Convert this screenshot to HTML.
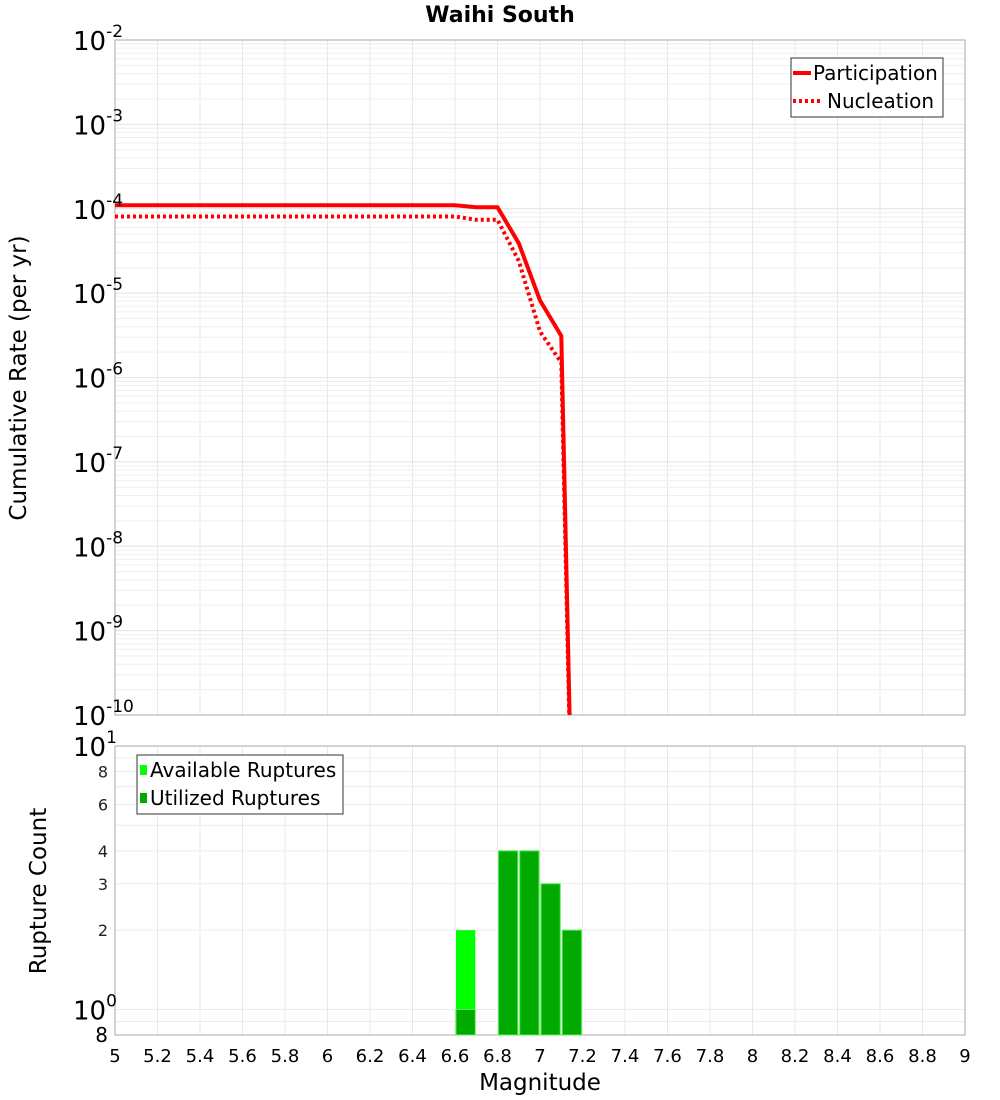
<!DOCTYPE html>
<html><head><meta charset="utf-8"><style>html,body{margin:0;padding:0;background:#fff;overflow:hidden;width:1000px;height:1100px}svg{display:block;font-family:"DejaVu Sans","Liberation Sans",sans-serif}</style></head>
<body>
<svg id="chart" width="1000" height="1100" viewBox="0 0 1000 1100"></svg>
<script>
const mags = [5,5.1,5.2,5.3,5.4,5.5,5.6,5.7,5.8,5.9,6,6.1,6.2,6.3,6.4,6.5,6.6,6.7,6.8,6.9,7.0,7.1,7.2];
const participation = [1.1e-4,1.1e-4,1.1e-4,1.1e-4,1.1e-4,1.1e-4,1.1e-4,1.1e-4,1.1e-4,1.1e-4,1.1e-4,1.1e-4,1.1e-4,1.1e-4,1.1e-4,1.1e-4,1.1e-4,1.04e-4,1.04e-4,3.9e-5,8.2e-6,3.1e-6,1e-17];
const nucleation = [8.1e-5,8.1e-5,8.1e-5,8.1e-5,8.1e-5,8.1e-5,8.1e-5,8.1e-5,8.1e-5,8.1e-5,8.1e-5,8.1e-5,8.1e-5,8.1e-5,8.1e-5,8.1e-5,8.1e-5,7.4e-5,7.4e-5,2.4e-5,3.5e-6,1.5e-6,1e-17];
const binMags = [6.6,6.8,6.9,7.0,7.1];
const available = [2,4,4,3,2];
const utilized = [1,4,4,3,2];
const xTicks = ["5","5.2","5.4","5.6","5.8","6","6.2","6.4","6.6","6.8","7","7.2","7.4","7.6","7.8","8","8.2","8.4","8.6","8.8","9"];

const NS="http://www.w3.org/2000/svg", svg=document.getElementById('chart');
function mk(t,a,p){const e=document.createElementNS(NS,t);for(const k in a)e.setAttribute(k,a[k]);(p||svg).appendChild(e);return e;}
const L=115,R=965,T1=40,B1=715,T2=746,B2=1035;
const x=m=>L+(m-5)*(R-L)/4;
const y1=v=>B1-(Math.log10(v)+10)*(B1-T1)/8;
const y2=v=>B2-(Math.log10(v)-Math.log10(0.8))*(B2-T2)/(1-Math.log10(0.8));

const grid=mk('g',{});
for(let i=0;i<xTicks.length;i++){const m=5+i*0.2;
 mk('line',{x1:x(m),x2:x(m),y1:T1,y2:B1,stroke:'#e8e8e8'},grid);
 mk('line',{x1:x(m),x2:x(m),y1:T2,y2:B2,stroke:'#e8e8e8'},grid);}
for(let d=-10;d<-2;d++)for(let k=1;k<10;k++){const yy=y1(k*Math.pow(10,d));mk('line',{x1:L,x2:R,y1:yy,y2:yy,stroke:k==1?'#e2e2e2':'#efefef'},grid);}
[0.9,1,2,3,4,5,6,7,8,9].forEach(v=>{const yy=y2(v);mk('line',{x1:L,x2:R,y1:yy,y2:yy,stroke:'#ececec'},grid);});

mk('rect',{x:L,y:T1,width:R-L,height:B1-T1,fill:'none',stroke:'#aaa'});
mk('rect',{x:L,y:T2,width:R-L,height:B2-T2,fill:'none',stroke:'#aaa'});

const clip=mk('clipPath',{id:'c1'});mk('rect',{x:L,y:T1,width:R-L,height:B1-T1},clip);
function line(vals,dash,name){const d=vals.map((v,i)=>(i?'L':'M')+x(mags[i]).toFixed(1)+','+y1(v).toFixed(1)).join('');
 const p=mk('path',{d:d,fill:'none',stroke:'#ff0000','stroke-width':4,'clip-path':'url(#c1)'});if(dash)p.setAttribute('stroke-dasharray',dash);
 }
line(participation,null,'participation-line');
line(nucleation,'3,3','nucleation-line');

for(let i=0;i<binMags.length;i++){const x0=x(binMags[i])+1,w=x(binMags[i]+0.1)-x(binMags[i])-2;
 const a=mk('rect',{x:x0,y:y2(available[i]),width:w,height:B2-y2(available[i]),fill:'#00ff00'});
 
 const u=mk('rect',{x:x0,y:y2(utilized[i]),width:w,height:B2-y2(utilized[i]),fill:'#00aa00',stroke:'#55ee55','stroke-width':1});
 }

xTicks.forEach((t,i)=>{const e=mk('text',{x:x(5+i*0.2),y:1062,'font-size':18,'text-anchor':'middle',fill:'#000'});e.textContent=t;});
for(let d=-10;d<=-2;d++){const g=mk('text',{x:73,y:y1(Math.pow(10,d))+10,'font-size':26,fill:'#000'});
 g.innerHTML='10<tspan dy="-13" font-size="17">'+d+'</tspan>';}
[[8,'8'],[6,'6'],[4,'4'],[3,'3'],[2,'2']].forEach(([v,s])=>{const e=mk('text',{x:108,y:y2(v)+6,'font-size':16,'text-anchor':'end',fill:'#222'});e.textContent=s;});
let g2=mk('text',{x:73,y:y2(10)+10,'font-size':26});g2.innerHTML='10<tspan dy="-13" font-size="17">1</tspan>';
g2=mk('text',{x:73,y:y2(1)+10,'font-size':26});g2.innerHTML='10<tspan dy="-13" font-size="17">0</tspan>';
g2=mk('text',{x:108,y:1042,'font-size':20,'text-anchor':'end'});g2.textContent='8';

let t=mk('text',{x:500,y:22,'font-size':22,'font-weight':'bold','text-anchor':'middle'});t.textContent='Waihi South';
t=mk('text',{x:540,y:1090,'font-size':23,'text-anchor':'middle'});t.textContent='Magnitude';
t=mk('text',{x:0,y:0,'font-size':23,'text-anchor':'middle',transform:'translate(26,378) rotate(-90)'});t.textContent='Cumulative Rate (per yr)';
t=mk('text',{x:0,y:0,'font-size':23,'text-anchor':'middle',transform:'translate(46,891) rotate(-90)'});t.textContent='Rupture Count';

let lg=mk('g',{});
mk('rect',{x:791,y:58,width:152,height:59,fill:'#fff',stroke:'#333'},lg);
mk('line',{x1:793,x2:811,y1:73,y2:73,stroke:'#f00','stroke-width':4},lg);
mk('line',{x1:793,x2:823,y1:101,y2:101,stroke:'#f00','stroke-width':4,'stroke-dasharray':'3,3'},lg);
t=mk('text',{x:813,y:80,'font-size':20},lg);t.textContent='Participation';
t=mk('text',{x:827,y:108,'font-size':20},lg);t.textContent='Nucleation';
lg=mk('g',{});
mk('rect',{x:137,y:755,width:206,height:59,fill:'#fff',stroke:'#333'},lg);
mk('rect',{x:140,y:765,width:7,height:10,fill:'#00ff00'},lg);
mk('rect',{x:140,y:793,width:7,height:10,fill:'#00aa00'},lg);
t=mk('text',{x:150,y:777,'font-size':20},lg);t.textContent='Available Ruptures';
t=mk('text',{x:150,y:805,'font-size':20},lg);t.textContent='Utilized Ruptures';
</script>
</body></html>
